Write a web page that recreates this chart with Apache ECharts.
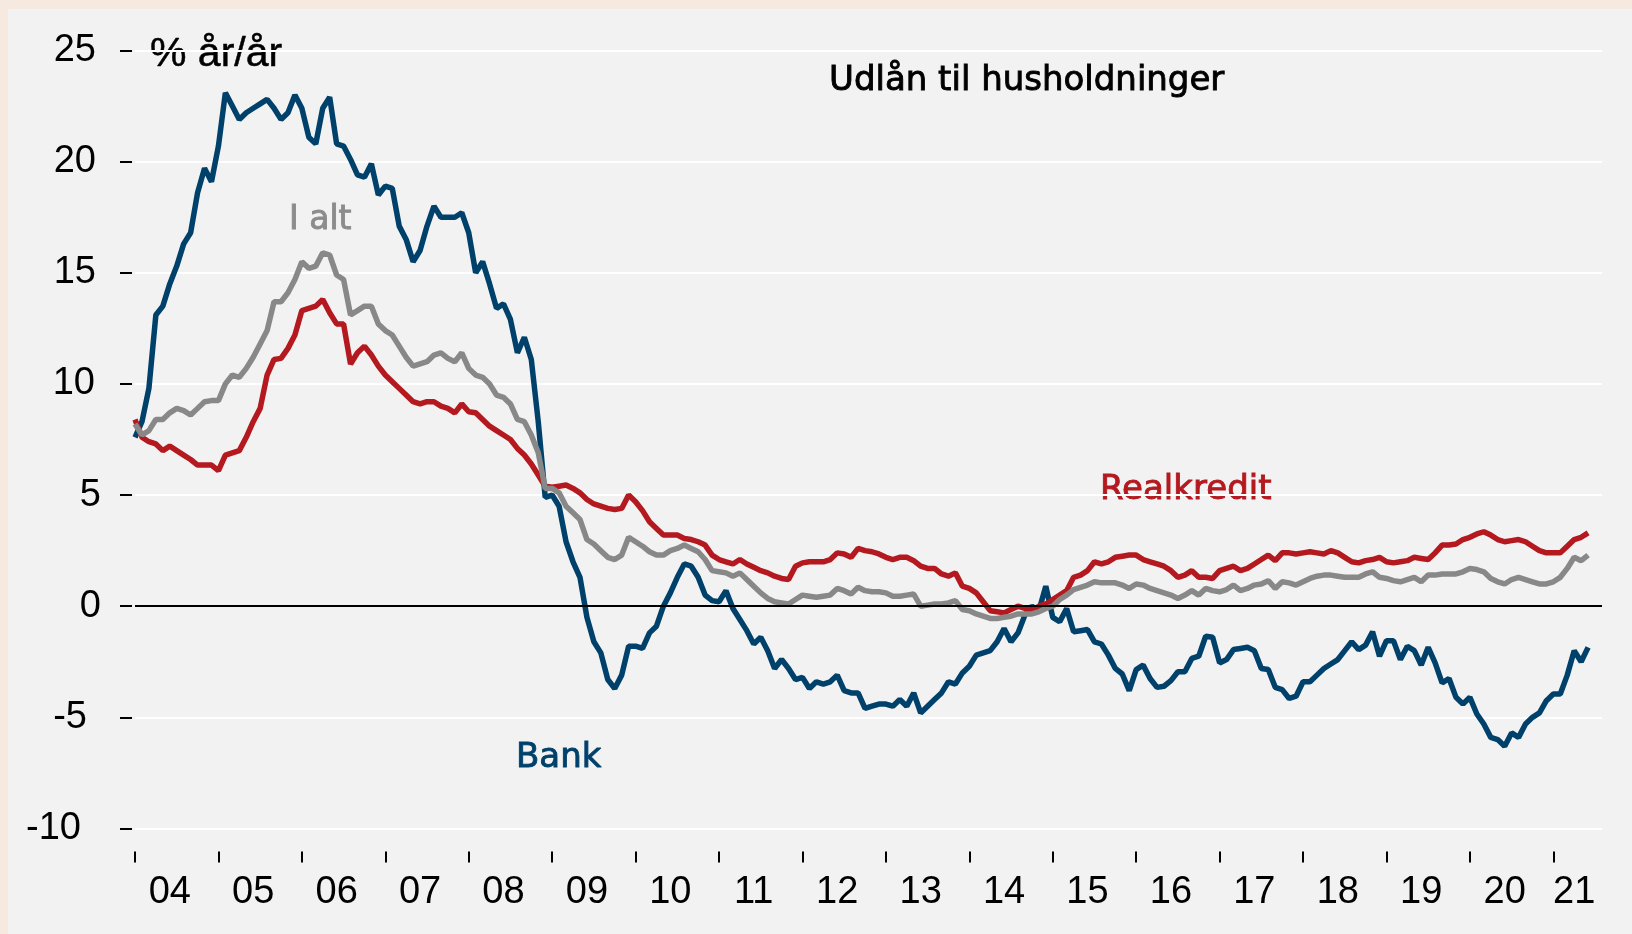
<!DOCTYPE html>
<html>
<head>
<meta charset="utf-8">
<script src="https://cdn.jsdelivr.net/npm/echarts@6.0.0/dist/echarts.min.js"></script>
<style>
  html, body { margin: 0; padding: 0; background: #f6e9e0; }
  #main { width: 1632px; height: 934px; }
</style>
</head>
<body>
<div id="main"></div>
<script>
// x-axis year labels, Jan 2004 .. 2021
const yearLabels = ['04', '05', '06', '07', '08', '09', '10', '11', '12', '13', '14', '15', '16', '17', '18', '19', '20', '21'];

// monthly categories, the axis runs to Aug 2021
const categories = [];
yearLabels.forEach(y => {
  for (let m = 1; m <= 12; m++) categories.push('20' + y + '-' + (m < 10 ? '0' + m : m));
});
categories.length = 212;

const yTicks = [25, 20, 15, 10, 5, 0, -5, -10];

// Udlån, % år/år, Jan 2004 - Jun 2021
const bank = [
  7.6, 8.3, 9.8, 13.1, 13.5, 14.5, 15.3, 16.3, 16.8, 18.6, 19.7, 19.1,
  20.7, 23.1, 22.5, 21.9, 22.2, 22.4, 22.6, 22.8, 22.4, 21.9, 22.2, 23.0,
  22.4, 21.1, 20.8, 22.4, 22.9, 20.8, 20.7, 20.1, 19.4, 19.3, 19.9, 18.5,
  18.9, 18.8, 17.1, 16.5, 15.5, 16.0, 17.1, 18.0, 17.5, 17.5, 17.5, 17.7,
  16.8, 15.0, 15.5, 14.5, 13.4, 13.6, 12.9, 11.4, 12.1, 11.1, 8.3, 4.9,
  5.0, 4.5, 2.9, 2.0, 1.3, -0.5, -1.6, -2.1, -3.3, -3.7, -3.1, -1.8,
  -1.8, -1.9, -1.2, -0.9, 0.0, 0.6, 1.3, 1.9, 1.8, 1.3, 0.5, 0.25,
  0.2, 0.7, -0.1, -0.6, -1.1, -1.7, -1.4, -2.0, -2.8, -2.4, -2.8, -3.3,
  -3.2, -3.7, -3.4, -3.5, -3.4, -3.1, -3.8, -3.9, -3.9, -4.6, -4.5, -4.4,
  -4.4, -4.5, -4.2, -4.5, -3.9, -4.8, -4.5, -4.2, -3.9, -3.4, -3.5, -3.0,
  -2.7, -2.2, -2.1, -2.0, -1.6, -1.0, -1.6, -1.2, -0.4, 0.0, -0.2, 0.9,
  -0.5, -0.7, -0.1, -1.15, -1.1, -1.05, -1.6, -1.7, -2.2, -2.8, -3.05, -3.8,
  -2.85, -2.65, -3.25, -3.65, -3.6, -3.35, -2.95, -2.95, -2.35, -2.25, -1.35, -1.4,
  -2.55, -2.4, -1.95, -1.9, -1.85, -2.0, -2.8, -2.85, -3.65, -3.75, -4.15, -4.05,
  -3.4, -3.4, -3.1, -2.8, -2.6, -2.4, -2.0, -1.6, -1.95, -1.75, -1.15, -2.25,
  -1.55, -1.55, -2.4, -1.8, -2.0, -2.65, -1.85, -2.55, -3.45, -3.25, -4.1, -4.4,
  -4.1, -4.85, -5.3, -5.9, -6.0, -6.3, -5.7, -5.9, -5.3, -5.0, -4.8, -4.25,
  -3.95, -3.95, -3.1, -2.0, -2.5, -1.85
];

const realkredit = [
  8.4, 7.6, 7.4, 7.3, 7.0, 7.2, 7.0, 6.8, 6.6, 6.35, 6.35, 6.35,
  6.1, 6.8, 6.9, 7.0, 7.6, 8.3, 8.9, 10.4, 11.1, 11.15, 11.6, 12.2,
  13.3, 13.4, 13.5, 13.8, 13.2, 12.7, 12.7, 10.9, 11.4, 11.7, 11.3, 10.8,
  10.4, 10.1, 9.8, 9.5, 9.2, 9.1, 9.2, 9.2, 9.0, 8.9, 8.7, 9.1,
  8.75, 8.7, 8.4, 8.1, 7.9, 7.7, 7.5, 7.1, 6.8, 6.4, 5.9, 5.4,
  5.35, 5.4, 5.45, 5.3, 5.1, 4.8, 4.6, 4.5, 4.4, 4.35, 4.4, 5.0,
  4.7, 4.3, 3.8, 3.5, 3.2, 3.2, 3.2, 3.05, 3.0, 2.9, 2.75, 2.3,
  2.1, 2.0, 1.9, 2.1, 1.9, 1.75, 1.6, 1.5, 1.35, 1.25, 1.2, 1.8,
  1.95, 2.0, 2.0, 2.0, 2.1, 2.4, 2.35, 2.2, 2.6, 2.5, 2.45, 2.35,
  2.2, 2.1, 2.2, 2.2, 2.05, 1.8, 1.7, 1.7, 1.45, 1.35, 1.5, 0.9,
  0.8, 0.6, 0.2, -0.2, -0.25, -0.3, -0.15, 0.0, -0.1, -0.2, 0.0, 0.1,
  0.3, 0.5, 0.7, 1.3, 1.4, 1.6, 2.0, 1.9, 2.0, 2.2, 2.25, 2.3,
  2.3, 2.1, 2.0, 1.9, 1.8, 1.6, 1.3, 1.4, 1.6, 1.3, 1.3, 1.25,
  1.6, 1.7, 1.8, 1.6, 1.7, 1.9, 2.1, 2.3, 2.05, 2.4, 2.4, 2.35,
  2.4, 2.45, 2.4, 2.35, 2.5, 2.4, 2.2, 2.0, 1.95, 2.05, 2.1, 2.2,
  2.0, 1.95, 2.0, 2.05, 2.2, 2.15, 2.1, 2.4, 2.75, 2.75, 2.8, 3.0,
  3.1, 3.25, 3.35, 3.2, 3.0, 2.9, 2.95, 3.0, 2.9, 2.7, 2.5, 2.4,
  2.4, 2.4, 2.7, 3.0, 3.1, 3.3
];

const iAlt = [
  8.2, 7.7, 7.9, 8.4, 8.4, 8.7, 8.9, 8.8, 8.6, 8.9, 9.2, 9.25,
  9.25, 10.0, 10.4, 10.3, 10.7, 11.2, 11.8, 12.4, 13.7, 13.7, 14.1, 14.7,
  15.5, 15.2, 15.3, 15.9, 15.8, 14.9, 14.7, 13.1, 13.3, 13.5, 13.5, 12.7,
  12.4, 12.2, 11.7, 11.2, 10.8, 10.9, 11.0, 11.3, 11.4, 11.15, 11.0, 11.4,
  10.7, 10.4, 10.3, 10.0, 9.5, 9.4, 9.1, 8.4, 8.3, 7.7, 6.9, 5.3,
  5.3, 5.1, 4.5, 4.2, 3.9, 3.0, 2.8, 2.5, 2.2, 2.1, 2.3, 3.1,
  2.9, 2.7, 2.45, 2.3, 2.3, 2.5, 2.6, 2.75, 2.6, 2.45, 2.1, 1.6,
  1.55, 1.5, 1.35, 1.5, 1.2, 0.9, 0.6, 0.35, 0.2, 0.15, 0.1, 0.3,
  0.5, 0.45, 0.4, 0.45, 0.5, 0.8, 0.7, 0.55, 0.85, 0.7, 0.65, 0.65,
  0.6, 0.45, 0.45, 0.5, 0.55, 0.0, 0.05, 0.1, 0.1, 0.15, 0.25, -0.15,
  -0.2, -0.35, -0.45, -0.55, -0.55, -0.5, -0.45, -0.35, -0.35, -0.35, -0.25, -0.1,
  0.0, 0.3, 0.5, 0.75, 0.85, 0.95, 1.1, 1.05, 1.05, 1.05, 0.95, 0.8,
  1.0, 0.95, 0.8, 0.7, 0.6, 0.5, 0.35, 0.5, 0.7, 0.5, 0.8, 0.7,
  0.65, 0.75, 0.95, 0.7, 0.8, 0.95, 1.0, 1.15, 0.8, 1.1, 1.05, 0.95,
  1.1, 1.25, 1.35, 1.4, 1.4, 1.35, 1.3, 1.3, 1.3, 1.45, 1.55, 1.3,
  1.25, 1.15, 1.1, 1.2, 1.3, 1.1, 1.4, 1.4, 1.45, 1.45, 1.45, 1.55,
  1.7, 1.65, 1.55, 1.25, 1.1, 1.0, 1.2, 1.3, 1.2, 1.1, 1.0, 1.0,
  1.1, 1.3, 1.7, 2.2, 2.05, 2.3
];

const BLUE = '#00416b';
const RED = '#b3191f';
const GREY = '#888888';
const AXIS_FONT = 'Liberation Sans, Arial, sans-serif';
const NOTE_FONT = 'DejaVu Sans, sans-serif';

// the y labels in the original do not line up on the right
const yLabelPad = { '25': 5, '20': 5, '15': 5, '10': 6, '5': 0, '0': 0, '-5': 14, '-10': 20 };
const yRich = {};
Object.values(yLabelPad).forEach(p => {
  yRich['p' + p] = { padding: [0, p, 0, 0], fontSize: 38, fontFamily: AXIS_FONT, color: '#000' };
});

// text notes, drawn a little heavier with a thin outline in the same colour
function note(text, x, y, size, color) {
  return {
    type: 'text',
    silent: true,
    style: {
      text: text, x: x, y: y,
      font: size + 'px ' + NOTE_FONT,
      fill: color, stroke: color, lineWidth: 0.9,
      textVerticalAlign: 'middle'
    }
  };
}

const myChart = echarts.init(document.getElementById('main'));

const option = {
  animation: false,
  backgroundColor: 'transparent',
  grid: { left: 135, right: 30, top: 50.5, height: 778, containLabel: false },
  graphic: [
    { type: 'rect', z: -100, silent: true, shape: { x: 8, y: 9, width: 1624, height: 925 }, style: { fill: '#f2f2f2' } },
    {
      type: 'text', silent: true,
      style: { text: '% år/år', x: 150, y: 55, font: '41px ' + AXIS_FONT, fill: '#000', stroke: '#000', lineWidth: 0.5, textVerticalAlign: 'middle' }
    },
    note('Udlån til husholdninger', 829, 81, 34, '#000'),
    note('I alt', 289, 220, 33, '#8c8c8c'),
    note('Realkredit', 1100, 490, 34, RED),
    note('Bank', 516, 758, 34, BLUE)
  ],
  xAxis: {
    type: 'category',
    data: categories,
    boundaryGap: false,
    offset: 23,
    axisLine: { show: false, onZero: false },
    axisTick: {
      show: true,
      length: 11,
      interval: (i) => i % 12 === 0,
      lineStyle: { color: '#000', width: 2 }
    },
    axisLabel: {
      interval: (i) => (i % 12 === 5 && i < 204) || i === 207,
      formatter: (v, i) => yearLabels[Math.floor(i / 12)],
      margin: 22,
      fontSize: 38,
      fontFamily: AXIS_FONT,
      color: '#000'
    },
    splitLine: { show: false }
  },
  yAxis: {
    type: 'value',
    min: -10,
    max: 25,
    interval: 5,
    offset: 3,
    axisLine: { show: false },
    axisTick: { show: true, length: 12, lineStyle: { color: '#000', width: 2 } },
    axisLabel: {
      margin: 31,
      formatter: (v) => '{p' + yLabelPad[String(v)] + '|' + v + '}',
      rich: yRich,
      fontSize: 38,
      fontFamily: AXIS_FONT,
      color: '#000'
    },
    splitLine: { show: true, lineStyle: { color: '#ffffff', width: 2 } }
  },
  series: [
    {
      name: 'zero',
      type: 'line',
      data: [],
      z: 1,
      silent: true,
      markLine: {
        silent: true,
        symbol: 'none',
        label: { show: false },
        lineStyle: { color: '#000', width: 2, type: 'solid' },
        data: [{ yAxis: 0 }]
      }
    },
    {
      name: 'Bank',
      type: 'line',
      data: bank,
      showSymbol: false,
      lineStyle: { color: BLUE, width: 5.5 },
      itemStyle: { color: BLUE }
    },
    {
      name: 'Realkredit',
      type: 'line',
      data: realkredit,
      showSymbol: false,
      lineStyle: { color: RED, width: 5.5 },
      itemStyle: { color: RED }
    },
    {
      name: 'I alt',
      type: 'line',
      data: iAlt,
      showSymbol: false,
      lineStyle: { color: GREY, width: 5.5 },
      itemStyle: { color: GREY }
    }
  ]
};

myChart.setOption(option);
</script>
</body>
</html>
